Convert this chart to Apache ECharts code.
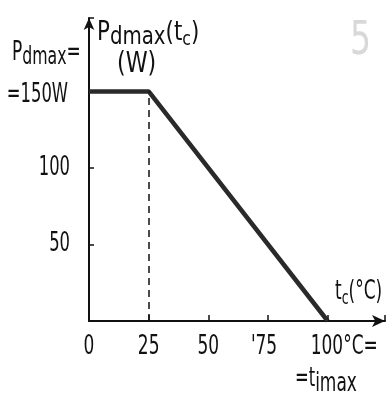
<!DOCTYPE html>
<html>
<head>
<meta charset="utf-8">
<script src="https://cdn.jsdelivr.net/npm/echarts@6/dist/echarts.min.js"></script>
<style>
html,body{margin:0;padding:0;background:#fff;}
#chart{width:387px;height:393px;}
</style>
</head>
<body>
<div id="chart"></div>
<script>
// derating curve data
var tcPoints = [0, 25, 100];
var pdPoints = [150, 150, 0];
var xTicks = [0, 25, 50, 75, 100];
var xTickText = ['0', '25', '50', "'75", '100°C='];
var yTicks = [50, 100, 150];
var yTickText = ['50', '100', '=150W'];
var kneeT = 25;

var FONT = '"DejaVu Sans Condensed", "DejaVu Sans", sans-serif';
var SX = 0.7;   // the drawing uses a very narrow lettering
var INK = '#111';

var chart = echarts.init(document.getElementById('chart'));

var lineData = [];
for(var i = 0; i < tcPoints.length; i++){
	lineData.push([tcPoints[i], pdPoints[i]]);
}

//narrow text element
function narrowText(x, y, text, size, align, rich, sx){
	return {
		type: 'text', x: x, y: y, scaleX: sx || SX, silent: true,
		style: {text: text, font: size + 'px ' + FONT, fill: INK, align: align, verticalAlign: 'middle', rich: rich}
	};
}
var nameRich = {
	p: {fontFamily: FONT, fontSize: 27, color: INK},
	d: {fontFamily: FONT, fontSize: 25, color: INK, padding: [9, 0, 0, 0]},
	s: {fontFamily: FONT, fontSize: 20, color: INK, padding: [14, 0, 0, 0]}
};

var option = {
	backgroundColor: '#fff',
	animation: false,
	grid: {left: 89, right: 2, top: 18, bottom: 72, outerBoundsMode: 'none', containLabel: false},
	xAxis: {
		type: 'value',
		min: 0,
		max: 124,
		interval: 25,
		splitLine: {show: false},
		axisLine: {lineStyle: {color: INK, width: 2}, symbol: ['none', 'arrow'], symbolSize: [9, 13]},
		axisTick: {show: true, inside: true, length: 6, lineStyle: {color: INK, width: 1.5}},
		axisLabel: {show: false}
	},
	yAxis: {
		type: 'value',
		min: 0,
		max: 198,
		interval: 50,
		splitLine: {show: false},
		axisLine: {show: true, lineStyle: {color: INK, width: 2}, symbol: ['none', 'arrow'], symbolSize: [8, 12]},
		axisTick: {show: true, inside: true, length: 5, lineStyle: {color: INK, width: 1.5}},
		axisLabel: {show: false}
	},
	series: [{
		type: 'line',
		data: lineData,
		symbol: 'none',
		lineStyle: {color: '#2a2a2a', width: 4.5},
		markLine: {
			silent: true,
			symbol: 'none',
			label: {show: false},
			lineStyle: {color: INK, type: [7, 5], width: 1.5},
			data: [[{coord: [kneeT, 0]}, {coord: [kneeT, pdPoints[1]]}]]
		}
	}]
};
chart.setOption(option);

//tick labels placed from the axis scales
var labels = [];
for(var i = 0; i < xTicks.length; i++){
	var p = chart.convertToPixel({gridIndex: 0}, [xTicks[i], 0]);
	if(xTicks[i] == 100){
		labels.push(narrowText(p[0] - 17, p[1] + 26, xTickText[i], 27, 'left'));
	}else if(xTicks[i] == 75){
		labels.push(narrowText(p[0] - 4, p[1] + 26, xTickText[i], 27, 'center'));
	}else{
		labels.push(narrowText(p[0], p[1] + 26, xTickText[i], 27, 'center'));
	}
}
for(var i = 0; i < yTicks.length; i++){
	var q = chart.convertToPixel({gridIndex: 0}, [0, yTicks[i]]);
	var dy = yTicks[i] == 150 ? 4 : 0;
	var dx = yTicks[i] == 150 ? 21 : 19;
	labels.push(narrowText(q[0] - dx, q[1] + dy, yTickText[i], 26, 'right'));
}

// axis names and side notes
labels.push(narrowText(97, 33, '{p|P}{d|dmax}{p|(t}{s|c}{p|)}', 27, 'left', nameRich, 0.88));
labels.push(narrowText(117, 65, '(W)', 28, 'left', null, 0.88));
labels.push(narrowText(12, 53, '{p|P}{d|dmax}{p|=}', 27, 'left', nameRich));
labels.push(narrowText(335, 292, '{p|t}{s|c}{p|(°C)}', 26, 'left', nameRich));
labels.push(narrowText(295, 379, '{p|=t}{d|imax}', 26, 'left', {
	p: {fontFamily: FONT, fontSize: 26, color: INK},
	d: {fontFamily: FONT, fontSize: 27, color: INK, padding: [10, 0, 0, 0]}
}));
labels.push({type: 'text', x: 350, y: 42, silent: true, scaleX: 0.8,
	style: {text: '5', font: '46px ' + FONT, fill: '#d8d8d8', align: 'left', verticalAlign: 'middle'}});

chart.setOption({graphic: labels});
</script>
</body>
</html>
